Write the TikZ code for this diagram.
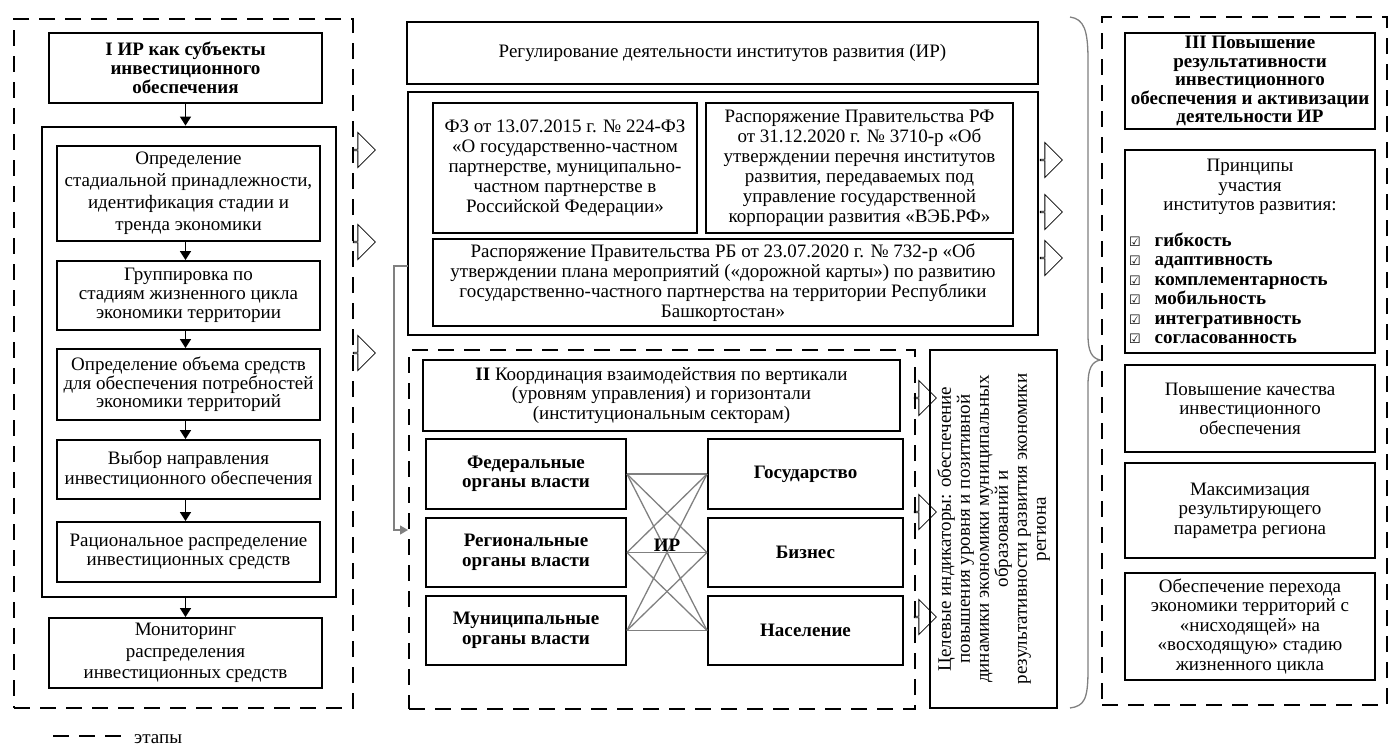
\documentclass[tikz,border=0pt]{standalone}
\usepackage{fontspec}
\setmainfont{Liberation Serif}
\newfontfamily\symfont{DejaVu Sans}
\usetikzlibrary{arrows.meta,positioning,shapes.arrows}

\newcommand{\chk}{{\symfont\fontsize{13}{13}\selectfont ☑}\hspace{14pt}}

\begin{document}
\begin{tikzpicture}[x=1pt,y=-1pt,>={Triangle[length=9pt,width=11pt]},line join=miter]
\tikzstyle{every node}=[font=\fontsize{19}{19.5}\selectfont]
\tikzstyle{box}=[draw,line width=1.9pt,align=center,inner sep=1pt]
\tikzstyle{boldbox}=[box,font=\fontsize{19}{19.5}\selectfont\bfseries]
\tikzstyle{stage}=[draw,line width=2.8pt,dash pattern=on 16pt off 10pt]
\tikzstyle{hollow}=[single arrow,draw,line width=0.8pt,fill=white,minimum height=22pt,minimum width=35pt,single arrow head extend=9pt,inner sep=0pt]
\tikzstyle{link}=[draw=gray,line width=1.3pt]
\tikzstyle{flow}=[->,line width=1.5pt]

\useasboundingbox (0,0) rectangle (1392,747);

\node[hollow] (ha1) at (364,150) {};
\node[hollow] (ha2) at (364,242) {};
\node[hollow] (ha3) at (364,353) {};

\node[stage,minimum width=339pt,minimum height=689pt] (stI) at (183.5,363.5) {};
\node[boldbox,minimum width=273pt,minimum height=70pt,font=\fontsize{19}{19}\selectfont\bfseries] (tI) at (185.5,68) {I ИР как субъекты\\инвестиционного\\обеспечения};
\node[draw,line width=2.8pt,minimum width=294pt,minimum height=470pt] (frm) at (189,362) {};
\node[box,minimum width=263pt,minimum height=95pt,font=\fontsize{19}{22}\selectfont] (b1) at (188.5,193.5) {Определение\\стадиальной принадлежности,\\идентификация стадии и\\тренда экономики};
\node[box,minimum width=263pt,minimum height=69pt,font=\fontsize{19}{19}\selectfont] (b2) at (188.5,295.5) {Группировка по\\стадиям жизненного цикла\\экономики территории};
\node[box,minimum width=263pt,minimum height=71pt,font=\fontsize{19}{18.5}\selectfont] (b3) at (188.5,384.5) {Определение объема средств\\для обеспечения потребностей\\экономики территорий};
\node[box,minimum width=263pt,minimum height=59pt] (b4) at (188.5,469.5) {Выбор направления\\инвестиционного обеспечения};
\node[box,minimum width=263pt,minimum height=60pt] (b5) at (188.5,552) {Рациональное распределение\\инвестиционных средств};
\node[box,minimum width=273pt,minimum height=70pt,font=\fontsize{19}{21.5}\selectfont] (mon) at (185.5,653) {Мониторинг\\распределения\\инвестиционных средств};

\path[flow]
(tI.south) edge (tI.south |- frm.north)
(b1.south -| tI.south) edge (b2.north -| tI.south)
(b2.south -| tI.south) edge (b3.north -| tI.south)
(b3.south -| tI.south) edge (b4.north -| tI.south)
(b4.south -| tI.south) edge (b5.north -| tI.south)
(frm.south -| tI.south) edge (mon.north -| tI.south)
;

\node[box,line width=1.5pt,minimum width=631pt,minimum height=62pt] (reg0) at (722.5,53) {Регулирование деятельности институтов развития (ИР)};
\node[box,line width=1.5pt,minimum width=630pt,minimum height=243pt] (mid) at (723,213.5) {};
\node[box,minimum width=264pt,minimum height=130pt,font=\fontsize{19}{20}\selectfont] (fz) at (565,168) {ФЗ от 13.07.2015 г. № 224-ФЗ\\«О государственно-частном\\партнерстве, муниципально-\\частном партнерстве в\\Российской Федерации»};
\node[box,minimum width=307pt,minimum height=130pt,font=\fontsize{19}{20}\selectfont] (rf) at (859.5,168) {Распоряжение Правительства РФ\\от 31.12.2020 г. № 3710-р «Об\\утверждении перечня институтов\\развития, передаваемых под\\управление государственной\\корпорации развития «ВЭБ.РФ»};
\node[box,minimum width=580pt,minimum height=87pt,font=\fontsize{19}{20}\selectfont] (rb) at (723,282.5) {Распоряжение Правительства РБ от 23.07.2020 г. № 732-р «Об\\утверждении плана мероприятий («дорожной карты») по развитию\\государственно-частного партнерства на территории Республики\\Башкортостан»};

\node[hollow] (hb1) at (1051,160) {};
\node[hollow] (hb2) at (1051,212) {};
\node[hollow] (hb3) at (1051,258) {};

\node[hollow] (hc1) at (925,398) {};
\node[hollow] (hc2) at (925,512) {};
\node[hollow] (hc3) at (925,617) {};

\node[stage,minimum width=506pt,minimum height=359pt] (stII) at (662,529.5) {};
\node[box,minimum width=477pt,minimum height=71pt] (tII) at (661.5,395.5) {\textbf{II} Координация взаимодействия по вертикали\\(уровням управления) и горизонтали\\(институциональным секторам)};
\node[boldbox,minimum width=200pt,minimum height=70pt] (fed) at (526,474) {Федеральные\\органы власти};
\node[boldbox,minimum width=200pt,minimum height=69pt] (regn) at (526,552.5) {Региональные\\органы власти};
\node[boldbox,minimum width=200pt,minimum height=69pt] (mun) at (526,630.5) {Муниципальные\\органы власти};
\node[boldbox,minimum width=195pt,minimum height=70pt] (gos) at (805.5,474) {Государство};
\node[boldbox,minimum width=195pt,minimum height=69pt] (biz) at (805.5,552.5) {Бизнес};
\node[boldbox,minimum width=195pt,minimum height=69pt] (nas) at (805.5,630.5) {Население};

\path[link]
(fed.east) edge (gos.west)
(fed.east) edge (biz.west)
(fed.east) edge (nas.west)
(regn.east) edge (gos.west)
(regn.east) edge (biz.west)
(regn.east) edge (nas.west)
(mun.east) edge (gos.west)
(mun.east) edge (biz.west)
(mun.east) edge (nas.west)
;
\node[font=\fontsize{19}{19}\selectfont\bfseries] (ir) at (667,545) {ИР};

\coordinate (gs) at (408,266);
\coordinate (ge) at (408,530);
\draw[link,-{Triangle[length=8pt,width=9pt]}] (gs) -- ++(-14,0) |- (ge);

\node[box,line width=1.5pt,rotate=90,minimum width=358pt,minimum height=127pt,font=\fontsize{19}{19}\selectfont] (tgt) at (993.5,529) {Целевые индикаторы: обеспечение\\повышения уровня и позитивной\\динамики экономики муниципальных\\образований и\\результативности развития экономики\\региона};

\draw[gray,line width=1.3pt] (1070,17) .. controls (1084,19) and (1088,30) .. (1088,60) -- (1088,335) .. controls (1088,352) and (1092,358) .. (1100,360) .. controls (1092,362) and (1088,368) .. (1088,385) -- (1088,670) .. controls (1088,700) and (1084,706) .. (1070,708);

\node[stage,minimum width=285pt,minimum height=688pt] (stIII) at (1244.5,361) {};
\node[boldbox,minimum width=250pt,minimum height=96pt,font=\fontsize{19}{18.5}\selectfont\bfseries] (tIII) at (1250,81) {III Повышение\\результативности\\инвестиционного\\обеспечения и активизации\\деятельности ИР};
\node[box,minimum width=250pt,minimum height=203pt] (prin) at (1250,251.5) {Принципы\\участия\\институтов развития:\\[17pt]\parbox{242pt}{\raggedright\bfseries\chk гибкость\\\chk адаптивность\\\chk комплементарность\\\chk мобильность\\\chk интегративность\\\chk согласованность}};
\node[box,minimum width=250pt,minimum height=87pt] (q1) at (1250,408.5) {Повышение качества\\инвестиционного\\обеспечения};
\node[box,minimum width=250pt,minimum height=95pt] (q2) at (1250,510.5) {Максимизация\\результирующего\\параметра региона};
\node[box,minimum width=250pt,minimum height=107pt] (q3) at (1250,626.5) {Обеспечение перехода\\экономики территорий с\\«нисходящей» на\\«восходящую» стадию\\жизненного цикла};

\draw[stage] (53,736) -- (126,736);
\node[anchor=base west,inner sep=0pt] (leg) at (134,743) {этапы};
\end{tikzpicture}
\end{document}
